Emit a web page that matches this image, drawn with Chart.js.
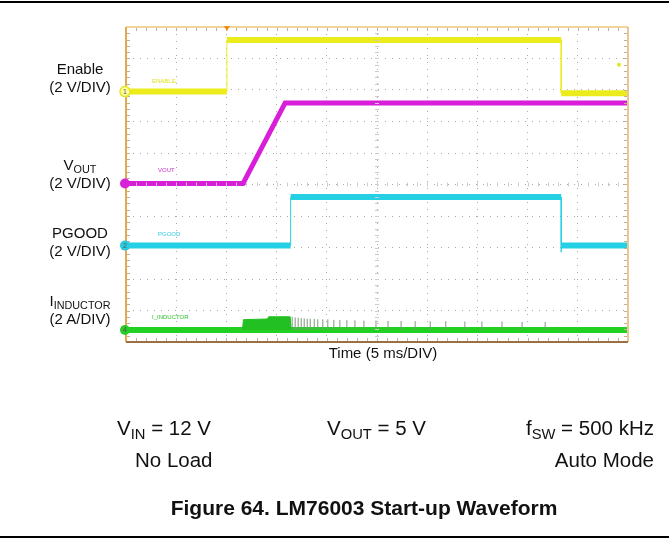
<!DOCTYPE html>
<html>
<head>
<meta charset="utf-8">
<script src="https://cdn.jsdelivr.net/npm/chart.js@4/dist/chart.umd.min.js"></script>
<style>
    html, body { margin: 0; padding: 0; background: #fff; }
    body { width: 669px; height: 550px; position: relative; overflow: hidden; font-family: "Liberation Sans", Arial, sans-serif; color: #111; }
    #scope { position: absolute; left: 0; top: 0; }
    .rule { position: absolute; left: 0; width: 669px; height: 2px; background: #000; }
    .lbl { position: absolute; text-align: center; font-size: 15px; line-height: 18px; width: 120px; }
    .lbl sub, .note sub { font-size: 0.72em; vertical-align: -0.25em; line-height: 0; }
    .tag { position: absolute; font-size: 6px; line-height: 6px; }
    .note { position: absolute; font-size: 20.5px; line-height: 24px; white-space: nowrap; }
    .caption { position: absolute; left: 150px; width: 428px; text-align: center; top: 496px; font-weight: bold; font-size: 21px; white-space: nowrap; }
</style>
</head>
<body>
<div class="rule" style="top:1px"></div>
<canvas id="scope" width="669" height="550"></canvas>

<div class="lbl" style="left:20px; top:60px">Enable<br>(2 V/DIV)</div>
<div class="lbl" style="left:20px; top:156px">V<sub>OUT</sub><br>(2 V/DIV)</div>
<div class="lbl" style="left:20px; top:224px">PGOOD<br>(2 V/DIV)</div>
<div class="lbl" style="left:20px; top:292px">I<sub>INDUCTOR</sub><br>(2 A/DIV)</div>

<div class="tag" style="left:152px; top:78px; color:#e0e020">ENABLE</div>
<div class="tag" style="left:158px; top:167px; color:#d030d0">VOUT</div>
<div class="tag" style="left:158px; top:231px; color:#30c8e0">PGOOD</div>
<div class="tag" style="left:152px; top:314px; color:#30c030">I_INDUCTOR</div>

<div class="lbl" style="left:323px; top:344px; width:120px">Time (5 ms/DIV)</div>

<div class="note" style="left:117px; top:416px">V<sub>IN</sub> = 12 V</div>
<div class="note" style="left:135px; top:448px">No Load</div>
<div class="note" style="left:327px; top:416px">V<sub>OUT</sub> = 5 V</div>
<div class="note" style="right:15px; top:416px">f<sub>SW</sub> = 500 kHz</div>
<div class="note" style="right:15px; top:448px">Auto Mode</div>
<div class="caption">Figure 64. LM76003 Start-up Waveform</div>
<div class="rule" style="top:536px"></div>

<script>
// time in divisions (5 ms/DIV), levels in divisions from bottom of screen
const enableTime = [0, 2.01, 2.01, 8.67, 8.67, 10];
const enableLevel = [7.95, 7.95, 9.59, 9.59, 7.9, 7.9];

const voutTime = [0, 2.33, 3.17, 10];
const voutLevel = [5.03, 5.03, 7.59, 7.59];

const pgoodTime = [0, 3.28, 3.28, 8.67, 8.67, 8.67, 10];
const pgoodLevel = [3.06, 3.06, 4.6, 4.6, 2.85, 3.06, 3.06];

const inductorTime = [0, 10];
const inductorLevel = [0.38, 0.38];

const burstTime = [2.32, 2.34, 2.82, 2.84, 3.27, 3.29];
const burstLevel = [0.38, 0.71, 0.73, 0.8, 0.8, 0.38];

const spikeTime = [3.31, 3.37, 3.43, 3.49, 3.55, 3.61, 3.67, 3.75, 3.82, 3.92, 4.02, 4.14, 4.26, 4.40,
    4.56, 4.74, 4.98, 5.22, 5.48, 5.76, 6.06, 6.37, 6.75, 7.09, 7.49, 7.89, 8.35];
const spikeTop = [0.8, 0.78, 0.77, 0.76, 0.75, 0.74, 0.74, 0.73, 0.72, 0.72, 0.72, 0.7, 0.7, 0.7,
    0.69, 0.68, 0.68, 0.67, 0.67, 0.66, 0.66, 0.66, 0.65, 0.65, 0.65, 0.64, 0.64];

const divTicks = [0, 1, 2, 3, 4, 5, 6, 7, 8, 9, 10];

function toPoints(xs, ys) {
    return xs.map((x, i) => ({ x, y: ys[i] }));
}

function spikePoints() {
    const pts = [];
    spikeTime.forEach((t, i) => {
        pts.push({ x: t, y: inductorLevel[0] });
        pts.push({ x: t, y: spikeTop[i] });
        pts.push({ x: t, y: null });
    });
    return pts;
}

// thin vertical edges, thick sampled levels
const thinEdges = (w) => ({
    borderWidth: (ctx) => (ctx.p0.parsed.x === ctx.p1.parsed.x ? 1 : w),
});

function trace(data, color, width) {
    return {
        data,
        borderColor: color,
        borderWidth: width,
        pointRadius: 0,
        tension: 0,
        fill: false,
        segment: thinEdges(width),
    };
}

const screenFrame = {
    id: 'screenFrame',
    afterDraw(chart) {
        const { ctx, chartArea: a, scales: { x, y } } = chart;
        ctx.save();
        // minor ticks along the edges and centre lines
        const cx = x.getPixelForValue(5), cy = y.getPixelForValue(5);
        ctx.strokeStyle = '#c0b098';
        ctx.lineWidth = 1;
        ctx.beginPath();
        for (let v = 0; v <= 10.001; v += 0.2) {
            const px = Math.round(x.getPixelForValue(v)) + 0.5;
            const py = Math.round(y.getPixelForValue(v)) + 0.5;
            ctx.moveTo(px, a.top); ctx.lineTo(px, a.top + 4);
            ctx.moveTo(px, a.bottom); ctx.lineTo(px, a.bottom - 4);
            ctx.moveTo(a.left, py); ctx.lineTo(a.left + 4, py);
            ctx.moveTo(a.right, py); ctx.lineTo(a.right - 4, py);
        }
        ctx.stroke();
        ctx.strokeStyle = '#cccccc';
        ctx.beginPath();
        for (let v = 0.2; v < 10; v += 0.2) {
            const px = Math.round(x.getPixelForValue(v)) + 0.5;
            const py = Math.round(y.getPixelForValue(v)) + 0.5;
            ctx.moveTo(px, cy - 2); ctx.lineTo(px, cy + 2);
            ctx.moveTo(cx - 2, py); ctx.lineTo(cx + 2, py);
        }
        ctx.stroke();
        // frame
        ctx.lineWidth = 2;
        ctx.strokeStyle = '#f0d49a';
        ctx.beginPath(); ctx.moveTo(a.left, a.top); ctx.lineTo(a.right, a.top); ctx.stroke();
        ctx.strokeStyle = '#e8c890';
        ctx.beginPath(); ctx.moveTo(a.right, a.top); ctx.lineTo(a.right, a.bottom); ctx.stroke();
        ctx.strokeStyle = '#e4a850';
        ctx.beginPath(); ctx.moveTo(a.left, a.top); ctx.lineTo(a.left, a.bottom); ctx.stroke();
        ctx.strokeStyle = '#9a7040';
        ctx.beginPath(); ctx.moveTo(a.left, a.bottom); ctx.lineTo(a.right, a.bottom); ctx.stroke();

        // trigger marker
        const tx = x.getPixelForValue(enableTime[1]);
        ctx.fillStyle = '#f08a10';
        ctx.beginPath();
        ctx.moveTo(tx - 3, a.top - 1); ctx.lineTo(tx + 3, a.top - 1); ctx.lineTo(tx, a.top + 4);
        ctx.fill();

        // channel ground markers
        const markers = [
            { level: enableLevel[0], color: '#e6e620', label: '1', ring: true },
            { level: voutLevel[0], color: '#d820d8', label: '', ring: false },
            { level: pgoodLevel[0], color: '#28cce0', label: '2', ring: false },
            { level: inductorLevel[0], color: '#28cc28', label: '4', ring: false },
        ];
        markers.forEach((m) => {
            const my = y.getPixelForValue(m.level);
            ctx.beginPath();
            ctx.arc(a.left - 1, my, 5, 0, Math.PI * 2);
            if (m.ring) {
                ctx.fillStyle = '#ffffa0';
                ctx.fill();
                ctx.strokeStyle = m.color;
                ctx.lineWidth = 1.5;
                ctx.stroke();
            } else {
                ctx.fillStyle = m.color;
                ctx.fill();
            }
            if (m.label) {
                ctx.fillStyle = '#555';
                ctx.font = '7px "Liberation Sans"';
                ctx.textAlign = 'center';
                ctx.textBaseline = 'middle';
                ctx.fillText(m.label, a.left - 1, my + 0.5);
            }
        });

        // small marker at right edge of the screen
        ctx.fillStyle = '#e6e620';
        ctx.beginPath();
        ctx.arc(x.getPixelForValue(9.82), y.getPixelForValue(8.8), 2, 0, Math.PI * 2);
        ctx.fill();
        ctx.restore();
    },
};

const scopeChart = new Chart(document.getElementById('scope'), {
    type: 'line',
    data: {
        datasets: [
            {
                data: toPoints(burstTime, burstLevel),
                borderColor: '#1fbf1f',
                backgroundColor: '#22c022',
                borderWidth: 1,
                pointRadius: 0,
                fill: { value: inductorLevel[0] },
            },
            {
                data: spikePoints(),
                borderColor: '#7c9a7c',
                borderWidth: 1,
                pointRadius: 0,
                spanGaps: false,
            },
            trace(toPoints(inductorTime, inductorLevel), '#22d022', 6),
            trace(toPoints(pgoodTime, pgoodLevel), '#26d0e4', 6),
            trace(toPoints(voutTime, voutLevel), '#d81ed8', 5),
            trace(toPoints(enableTime, enableLevel), '#ecec1c', 6),
        ],
    },
    options: {
        responsive: false,
        animation: false,
        layout: { padding: { left: 126, top: 27, right: 41, bottom: 208 } },
        plugins: { legend: { display: false }, tooltip: { enabled: false } },
        scales: {
            x: {
                type: 'linear',
                min: 0,
                max: 10,
                afterBuildTicks: (scale) => { scale.ticks = divTicks.map((v) => ({ value: v })); },
                ticks: { display: false },
                grid: { color: '#aaaaaa', drawTicks: false, lineWidth: 1 },
                border: { display: false, dash: [1, 6] },
            },
            y: {
                min: 0,
                max: 10,
                afterBuildTicks: (scale) => { scale.ticks = divTicks.map((v) => ({ value: v })); },
                ticks: { display: false },
                grid: { color: '#aaaaaa', drawTicks: false, lineWidth: 1 },
                border: { display: false, dash: [1, 6] },
            },
        },
    },
    plugins: [screenFrame],
});
</script>
</body>
</html>
